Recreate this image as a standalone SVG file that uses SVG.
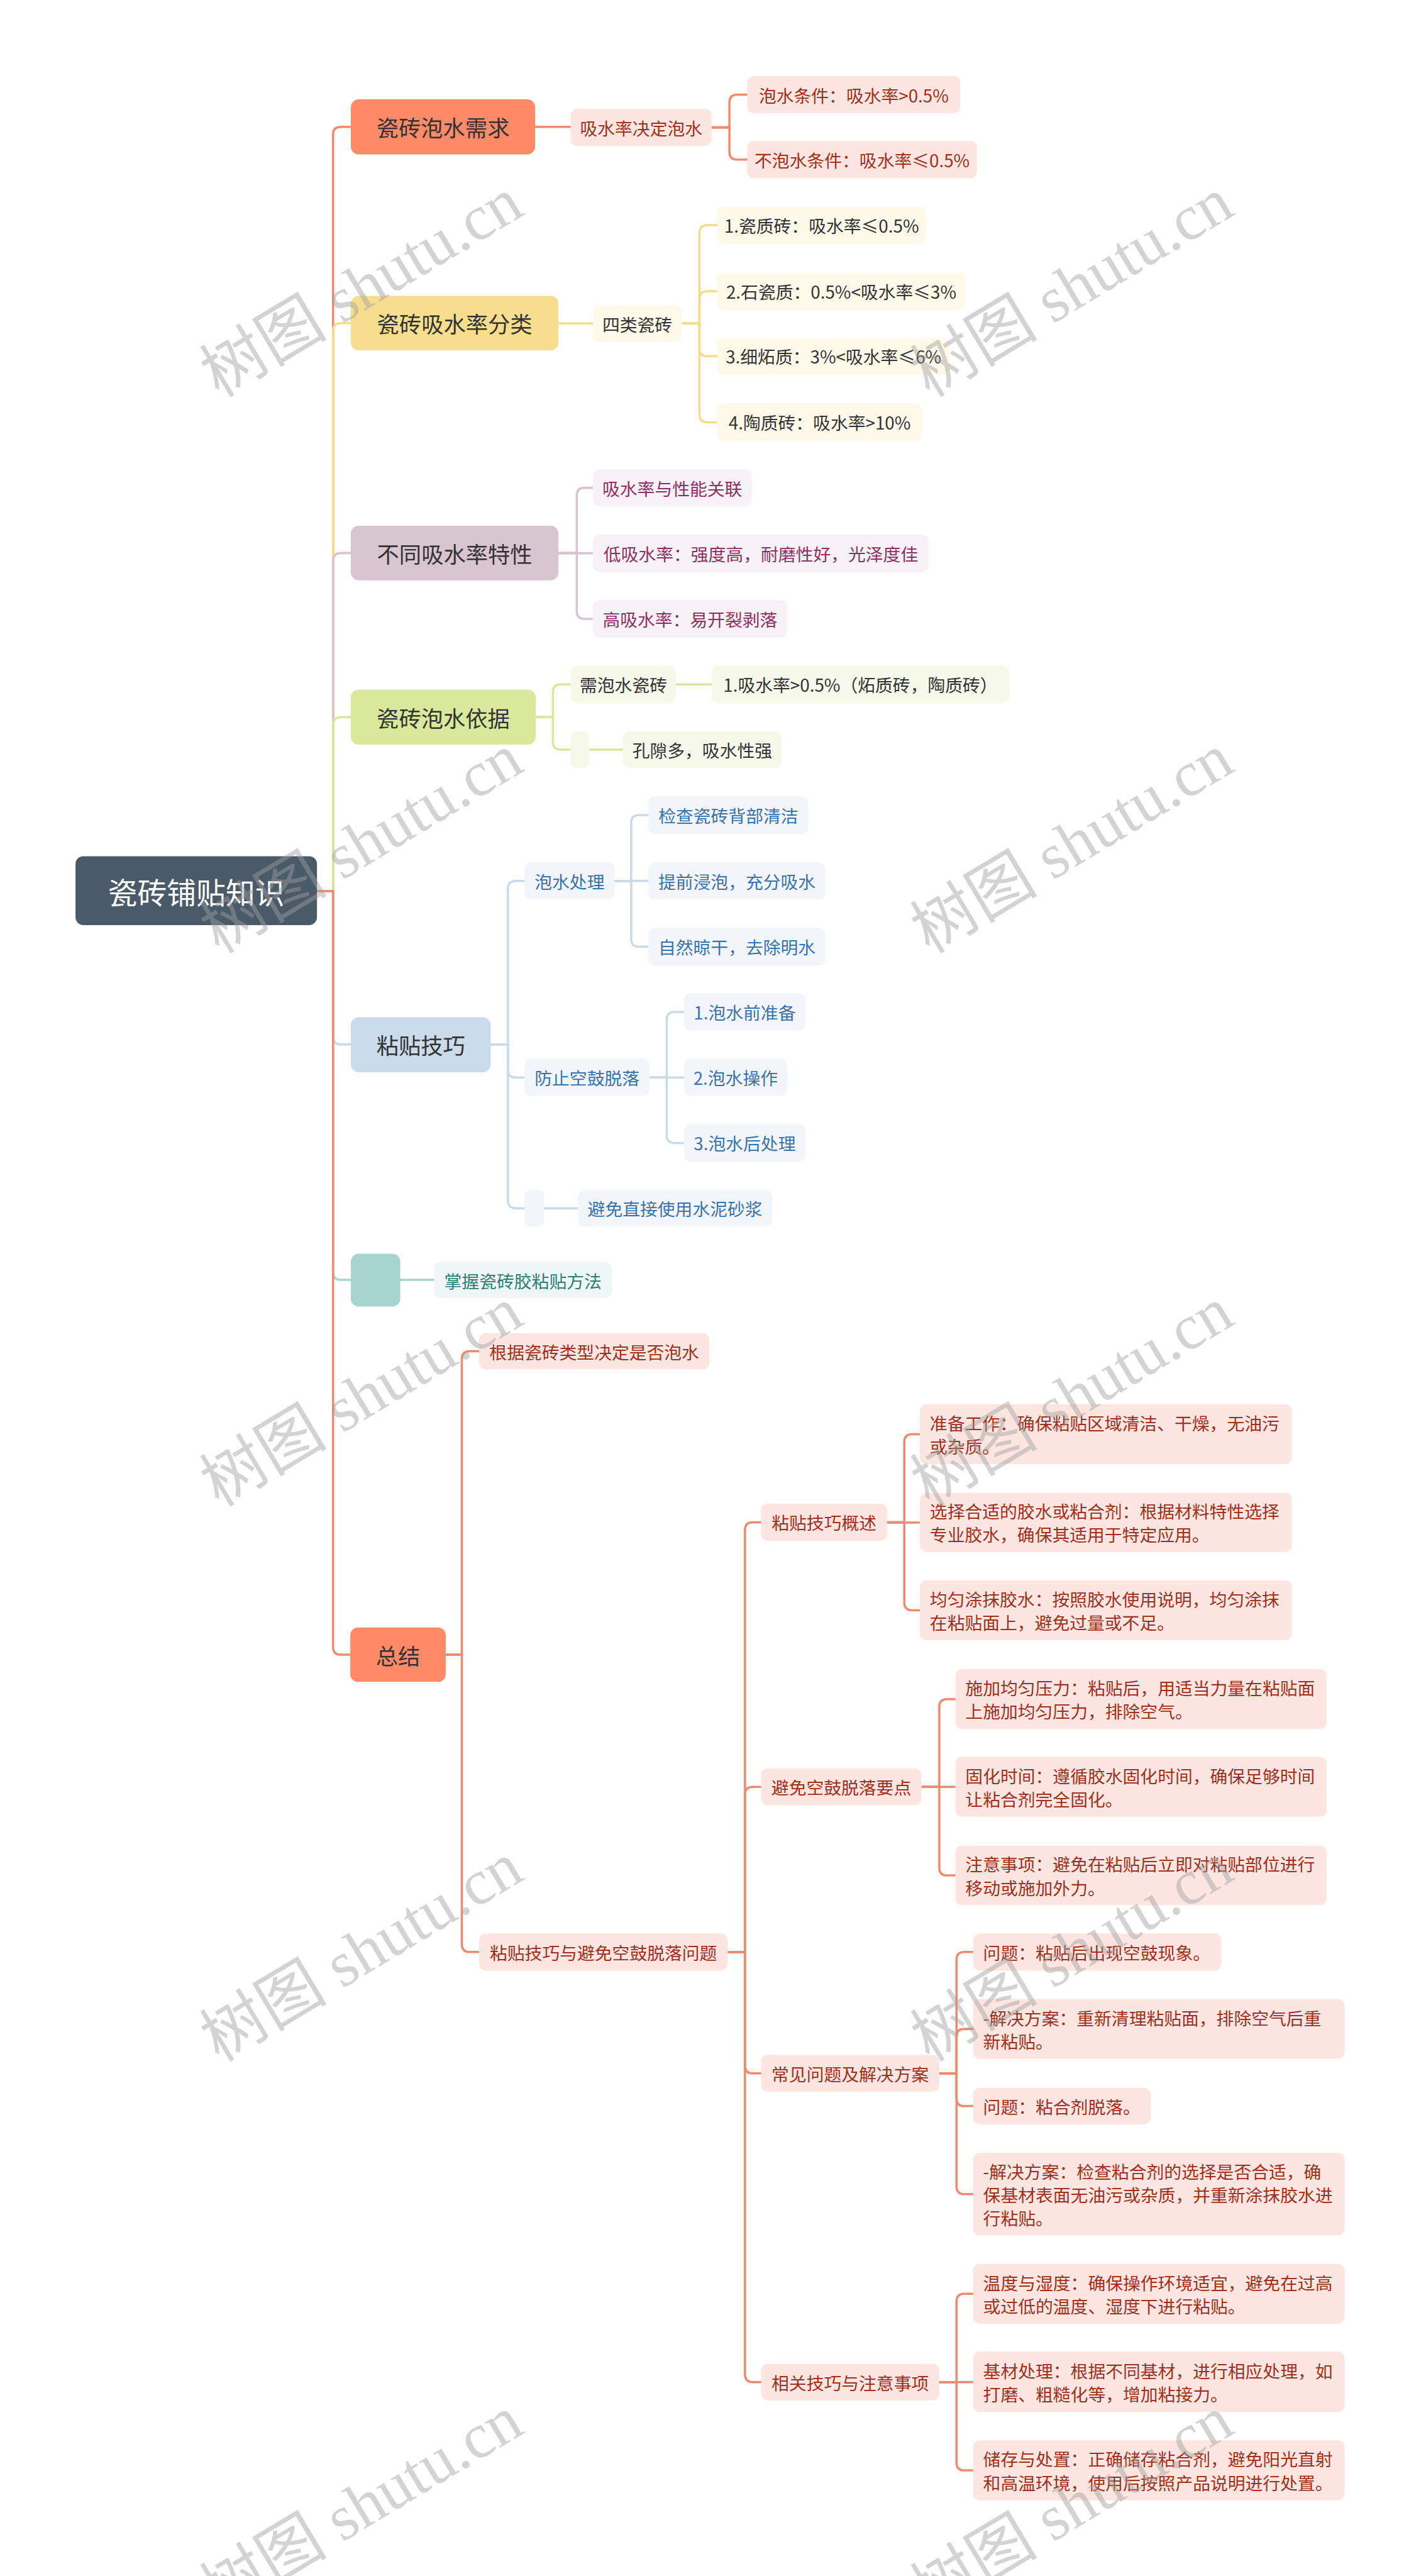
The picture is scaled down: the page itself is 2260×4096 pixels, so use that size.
<svg xmlns="http://www.w3.org/2000/svg" width="2260" height="4096" viewBox="0 0 2260 4096">
<style>
text{font-family:"Noto Sans CJK SC","Noto Sans",sans-serif;dominant-baseline:central}
.c{text-anchor:middle}
.f0{font-size:53px;fill:#ffffff}
.f1{font-size:40px;fill:#333333}
.f2{font-size:31.5px}
.lk{fill:none;stroke-width:4;stroke-linecap:round}
.co{stroke:#F0896E}.ye{stroke:#F5DC8D}.ma{stroke:#D8C4CF}.gr{stroke:#D7E89B}.bl{stroke:#C9DAEB}.te{stroke:#A6D5CF}
.tco{fill:#A0301B}.tye{fill:#333333}.tma{fill:#8E2F63}.tgr{fill:#333333}.tbl{fill:#3A72AC}.tte{fill:#2E7E73}
.bco{fill:#FDE6E1}.bye{fill:#FEF9E8}.bma{fill:#F8F1F5}.bgr{fill:#F6F9EA}.bbl{fill:#F2F6FA}.bte{fill:#EEF7F6}
.wm{font-family:"Liberation Serif","Noto Sans CJK SC",serif;font-size:115px;fill:#a0a0a0;opacity:0.45;text-anchor:middle}
</style>
<rect x="0" y="0" width="2260" height="4096" fill="#ffffff"/>
<g transform="scale(0.8829)">
<g id="connectors">
<path class="lk co" d="M571 1605 H600 V242.5 Q600 228.5 614 228.5 H632"/>
<path class="lk ye" d="M571 1605 H600 V596 Q600 582 614 582 H632"/>
<path class="lk ma" d="M571 1605 H600 V1010 Q600 996 614 996 H632"/>
<path class="lk gr" d="M571 1605 H600 V1305.5 Q600 1291.5 614 1291.5 H632"/>
<path class="lk bl" d="M571 1605 H600 V1867 Q600 1881 614 1881 H632"/>
<path class="lk te" d="M571 1605 H600 V2291 Q600 2305 614 2305 H632"/>
<path class="lk co" d="M571 1605 H600 V2966 Q600 2980 614 2980 H632"/>
<path class="lk co" d="M964 228.5 H1028"/>
<path class="lk co" d="M1282 229.5 H1314 V184.5 Q1314 170.5 1328 170.5 H1346"/>
<path class="lk co" d="M1282 229.5 H1314 V273.5 Q1314 287.5 1328 287.5 H1346"/>
<path class="lk ye" d="M1006 582.5 H1068"/>
<path class="lk ye" d="M1228 582.5 H1260 V419.5 Q1260 405.5 1274 405.5 H1292"/>
<path class="lk ye" d="M1228 582.5 H1260 V538.5 Q1260 524.5 1274 524.5 H1292"/>
<path class="lk ye" d="M1228 582.5 H1260 V627.5 Q1260 641.5 1274 641.5 H1292"/>
<path class="lk ye" d="M1228 582.5 H1260 V746.5 Q1260 760.5 1274 760.5 H1292"/>
<path class="lk ma" d="M1006 996 H1039 V892.5 Q1039 878.5 1053 878.5 H1068"/>
<path class="lk ma" d="M1006 996.5 H1068"/>
<path class="lk ma" d="M1006 996 H1039 V1100.5 Q1039 1114.5 1053 1114.5 H1068"/>
<path class="lk gr" d="M965 1291.5 H996 V1246.5 Q996 1232.5 1010 1232.5 H1028"/>
<path class="lk gr" d="M965 1291.5 H996 V1336 Q996 1350 1010 1350 H1028"/>
<path class="lk gr" d="M1218 1232.5 H1282"/>
<path class="lk gr" d="M1061 1350 H1122"/>
<path class="lk bl" d="M884 1881 H915 V1600.5 Q915 1586.5 929 1586.5 H945"/>
<path class="lk bl" d="M884 1881 H915 V1926.5 Q915 1940.5 929 1940.5 H945"/>
<path class="lk bl" d="M884 1881 H915 V2162 Q915 2176 929 2176 H945"/>
<path class="lk bl" d="M1107 1586.5 H1137 V1482 Q1137 1468 1151 1468 H1168"/>
<path class="lk bl" d="M1107 1586.5 H1168"/>
<path class="lk bl" d="M1107 1586.5 H1137 V1691 Q1137 1705 1151 1705 H1168"/>
<path class="lk bl" d="M1170 1940.5 H1201 V1836.5 Q1201 1822.5 1215 1822.5 H1232"/>
<path class="lk bl" d="M1170 1940.5 H1232"/>
<path class="lk bl" d="M1170 1940.5 H1201 V2044.5 Q1201 2058.5 1215 2058.5 H1232"/>
<path class="lk bl" d="M980 2176 H1041"/>
<path class="lk te" d="M721 2305 H782"/>
<path class="lk co" d="M803 2980 H832 V2447.5 Q832 2433.5 846 2433.5 H863"/>
<path class="lk co" d="M803 2980 H832 V3501.5 Q832 3515.5 846 3515.5 H863"/>
<path class="lk co" d="M1311 3515.5 H1342 V2755.5 Q1342 2741.5 1356 2741.5 H1371"/>
<path class="lk co" d="M1311 3515.5 H1342 V3232 Q1342 3218 1356 3218 H1371"/>
<path class="lk co" d="M1311 3515.5 H1342 V3720 Q1342 3734 1356 3734 H1371"/>
<path class="lk co" d="M1311 3515.5 H1342 V4276 Q1342 4290 1356 4290 H1371"/>
<path class="lk co" d="M1598 2741.5 H1629 V2597 Q1629 2583 1643 2583 H1657"/>
<path class="lk co" d="M1598 2742 H1657"/>
<path class="lk co" d="M1598 2741.5 H1629 V2886 Q1629 2900 1643 2900 H1657"/>
<path class="lk co" d="M1660 3218 H1692 V3074 Q1692 3060 1706 3060 H1721"/>
<path class="lk co" d="M1660 3218 H1721"/>
<path class="lk co" d="M1660 3218 H1692 V3363.5 Q1692 3377.5 1706 3377.5 H1721"/>
<path class="lk co" d="M1692 3734 H1723 V3529.5 Q1723 3515.5 1737 3515.5 H1753"/>
<path class="lk co" d="M1692 3734 H1723 V3668 Q1723 3654 1737 3654 H1753"/>
<path class="lk co" d="M1692 3734 H1723 V3779 Q1723 3793 1737 3793 H1753"/>
<path class="lk co" d="M1692 3734 H1723 V3937.5 Q1723 3951.5 1737 3951.5 H1753"/>
<path class="lk co" d="M1692 4290 H1723 V4145 Q1723 4131 1737 4131 H1753"/>
<path class="lk co" d="M1692 4290 H1753"/>
<path class="lk co" d="M1692 4290 H1723 V4435 Q1723 4449 1737 4449 H1753"/>
</g>

<g id="root"><rect x="136" y="1542" width="435" height="124" rx="14" fill="#4A5A69"/><text class="c f0" x="353.5" y="1604">瓷砖铺贴知识</text></g>

<g id="n-a1"><rect x="632" y="179" width="332" height="99" rx="14" fill="#FE8A68"/><text class="c f1" x="798" y="228.5">瓷砖泡水需求</text></g>
<g id="n-a2"><rect x="632" y="533" width="374" height="98" rx="14" fill="#F7DE8F"/><text class="c f1" x="819" y="582">瓷砖吸水率分类</text></g>
<g id="n-a3"><rect x="632" y="947" width="374" height="98" rx="14" fill="#D8C5D0"/><text class="c f1" x="819" y="996">不同吸水率特性</text></g>
<g id="n-a4"><rect x="632" y="1242" width="333" height="99" rx="14" fill="#D9E89A"/><text class="c f1" x="798.5" y="1291.5">瓷砖泡水依据</text></g>
<g id="n-a5"><rect x="632" y="1832" width="252" height="99" rx="14" fill="#CADBEC"/><text class="c f1" x="758" y="1881">粘贴技巧</text></g>
<g id="n-a6"><rect x="632" y="2258" width="89" height="95" rx="14" fill="#A6D5CF"/></g>
<g id="n-a7"><rect x="631" y="2931" width="172" height="98" rx="14" fill="#FE8A68"/><text class="c f1" x="717" y="2980">总结</text></g>

<g id="n-b1"><rect class="bco" x="1028" y="196" width="254" height="67" rx="12"/><text class="c f2 tco" x="1155" y="229.5">吸水率决定泡水</text></g>
<g id="n-c1"><rect class="bco" x="1346" y="137" width="384" height="67" rx="12"/><text class="c f2 tco" x="1538" y="170.5">泡水条件：吸水率&gt;0.5%</text></g>
<g id="n-c2"><rect class="bco" x="1346" y="254" width="414" height="67" rx="12"/><text class="c f2 tco" x="1553" y="287.5">不泡水条件：吸水率≤0.5%</text></g>

<g id="n-b2"><rect class="bye" x="1068" y="550" width="160" height="66" rx="12"/><text class="c f2 tye" x="1148" y="583">四类瓷砖</text></g>
<g id="n-d1"><rect class="bye" x="1292" y="372" width="376" height="67" rx="12"/><text class="c f2 tye" x="1480" y="405.5">1.瓷质砖：吸水率≤0.5%</text></g>
<g id="n-d2"><rect class="bye" x="1292" y="491" width="447" height="67" rx="12"/><text class="c f2 tye" x="1515.5" y="524.5">2.石瓷质：0.5%&lt;吸水率≤3%</text></g>
<g id="n-d3"><rect class="bye" x="1292" y="608" width="419" height="67" rx="12"/><text class="c f2 tye" x="1501.5" y="641.5">3.细炻质：3%&lt;吸水率≤6%</text></g>
<g id="n-d4"><rect class="bye" x="1292" y="727" width="369" height="67" rx="12"/><text class="c f2 tye" x="1476.5" y="760.5">4.陶质砖：吸水率&gt;10%</text></g>

<g id="n-e1"><rect class="bma" x="1068" y="845" width="286" height="67" rx="12"/><text class="c f2 tma" x="1211" y="878.5">吸水率与性能关联</text></g>
<g id="n-e2"><rect class="bma" x="1068" y="963" width="605" height="67" rx="12"/><text class="c f2 tma" x="1370.5" y="996.5">低吸水率：强度高，耐磨性好，光泽度佳</text></g>
<g id="n-e3"><rect class="bma" x="1068" y="1081" width="350" height="67" rx="12"/><text class="c f2 tma" x="1243" y="1114.5">高吸水率：易开裂剥落</text></g>

<g id="n-f1"><rect class="bgr" x="1028" y="1199" width="190" height="67" rx="12"/><text class="c f2 tgr" x="1123" y="1232.5">需泡水瓷砖</text></g>
<g id="n-f2"><rect class="bgr" x="1282" y="1199" width="536" height="67" rx="12"/><text class="c f2 tgr" x="1550" y="1232.5">1.吸水率&gt;0.5%（炻质砖，陶质砖）</text></g>
<g id="n-f3"><rect class="bgr" x="1028" y="1317" width="33" height="66" rx="10"/></g>
<g id="n-f4"><rect class="bgr" x="1122" y="1317" width="286" height="66" rx="12"/><text class="c f2 tgr" x="1265" y="1350">孔隙多，吸水性强</text></g>

<g id="n-g1"><rect class="bbl" x="945" y="1553" width="162" height="67" rx="12"/><text class="c f2 tbl" x="1026" y="1586.5">泡水处理</text></g>
<g id="n-g2"><rect class="bbl" x="1168" y="1434" width="288" height="68" rx="12"/><text class="c f2 tbl" x="1312" y="1468">检查瓷砖背部清洁</text></g>
<g id="n-g3"><rect class="bbl" x="1168" y="1553" width="319" height="67" rx="12"/><text class="c f2 tbl" x="1327.5" y="1586.5">提前浸泡，充分吸水</text></g>
<g id="n-g4"><rect class="bbl" x="1168" y="1671" width="319" height="68" rx="12"/><text class="c f2 tbl" x="1327.5" y="1705">自然晾干，去除明水</text></g>
<g id="n-g5"><rect class="bbl" x="945" y="1907" width="225" height="67" rx="12"/><text class="c f2 tbl" x="1057.5" y="1940.5">防止空鼓脱落</text></g>
<g id="n-g6"><rect class="bbl" x="1232" y="1789" width="219" height="67" rx="12"/><text class="c f2 tbl" x="1341.5" y="1822.5">1.泡水前准备</text></g>
<g id="n-g7"><rect class="bbl" x="1232" y="1907" width="186" height="67" rx="12"/><text class="c f2 tbl" x="1325" y="1940.5">2.泡水操作</text></g>
<g id="n-g8"><rect class="bbl" x="1232" y="2025" width="219" height="67" rx="12"/><text class="c f2 tbl" x="1341.5" y="2058.5">3.泡水后处理</text></g>
<g id="n-g9"><rect class="bbl" x="945" y="2143" width="35" height="66" rx="10"/></g>
<g id="n-g10"><rect class="bbl" x="1041" y="2143" width="350" height="66" rx="12"/><text class="c f2 tbl" x="1216" y="2176">避免直接使用水泥砂浆</text></g>

<g id="n-h1"><rect class="bte" x="782" y="2273" width="320" height="65" rx="12"/><text class="c f2 tte" x="942" y="2305.5">掌握瓷砖胶粘贴方法</text></g>

<g id="n-i1"><rect class="bco" x="863" y="2401" width="415" height="65" rx="12"/><text class="c f2 tco" x="1070.5" y="2433.5">根据瓷砖类型决定是否泡水</text></g>
<g id="n-i2"><rect class="bco" x="863" y="3482" width="448" height="67" rx="12"/><text class="c f2 tco" x="1087" y="3515.5">粘贴技巧与避免空鼓脱落问题</text></g>
<g id="n-j1"><rect class="bco" x="1371" y="2708" width="227" height="67" rx="12"/><text class="c f2 tco" x="1484.5" y="2741.5">粘贴技巧概述</text></g>
<g id="n-j2"><rect class="bco" x="1371" y="3185" width="289" height="66" rx="12"/><text class="c f2 tco" x="1515.5" y="3218">避免空鼓脱落要点</text></g>
<g id="n-j3"><rect class="bco" x="1371" y="3701" width="321" height="66" rx="12"/><text class="c f2 tco" x="1531.5" y="3734">常见问题及解决方案</text></g>
<g id="n-j4"><rect class="bco" x="1371" y="4257" width="321" height="66" rx="12"/><text class="c f2 tco" x="1531.5" y="4290">相关技巧与注意事项</text></g>

<g id="n-k1"><rect class="bco" x="1657" y="2529" width="670" height="108" rx="12"/><text class="f2 tco" x="1675" y="2562">准备工作：确保粘贴区域清洁、干燥，无油污</text><text class="f2 tco" x="1675" y="2604">或杂质。</text></g>
<g id="n-k2"><rect class="bco" x="1657" y="2689" width="670" height="106" rx="12"/><text class="f2 tco" x="1675" y="2721">选择合适的胶水或粘合剂：根据材料特性选择</text><text class="f2 tco" x="1675" y="2763">专业胶水，确保其适用于特定应用。</text></g>
<g id="n-k3"><rect class="bco" x="1657" y="2846" width="670" height="108" rx="12"/><text class="f2 tco" x="1675" y="2879">均匀涂抹胶水：按照胶水使用说明，均匀涂抹</text><text class="f2 tco" x="1675" y="2921">在粘贴面上，避免过量或不足。</text></g>
<g id="n-k4"><rect class="bco" x="1721" y="3006" width="669" height="108" rx="12"/><text class="f2 tco" x="1739" y="3039">施加均匀压力：粘贴后，用适当力量在粘贴面</text><text class="f2 tco" x="1739" y="3081">上施加均匀压力，排除空气。</text></g>
<g id="n-k5"><rect class="bco" x="1721" y="3164" width="669" height="108" rx="12"/><text class="f2 tco" x="1739" y="3197">固化时间：遵循胶水固化时间，确保足够时间</text><text class="f2 tco" x="1739" y="3239">让粘合剂完全固化。</text></g>
<g id="n-k6"><rect class="bco" x="1721" y="3324" width="669" height="107" rx="12"/><text class="f2 tco" x="1739" y="3356.5">注意事项：避免在粘贴后立即对粘贴部位进行</text><text class="f2 tco" x="1739" y="3398.5">移动或施加外力。</text></g>
<g id="n-k7"><rect class="bco" x="1753" y="3482" width="447" height="67" rx="12"/><text class="f2 tco" x="1771" y="3515.5">问题：粘贴后出现空鼓现象。</text></g>
<g id="n-k8"><rect class="bco" x="1753" y="3600" width="669" height="108" rx="12"/><text class="f2 tco" x="1771" y="3633">-解决方案：重新清理粘贴面，排除空气后重</text><text class="f2 tco" x="1771" y="3675">新粘贴。</text></g>
<g id="n-k9"><rect class="bco" x="1753" y="3760" width="320" height="66" rx="12"/><text class="f2 tco" x="1771" y="3793">问题：粘合剂脱落。</text></g>
<g id="n-k10"><rect class="bco" x="1753" y="3877" width="669" height="149" rx="12"/><text class="f2 tco" x="1771" y="3909.5">-解决方案：检查粘合剂的选择是否合适，确</text><text class="f2 tco" x="1771" y="3951.5">保基材表面无油污或杂质，并重新涂抹胶水进</text><text class="f2 tco" x="1771" y="3993.5">行粘贴。</text></g>
<g id="n-k11"><rect class="bco" x="1753" y="4077" width="669" height="108" rx="12"/><text class="f2 tco" x="1771" y="4110">温度与湿度：确保操作环境适宜，避免在过高</text><text class="f2 tco" x="1771" y="4152">或过低的温度、湿度下进行粘贴。</text></g>
<g id="n-k12"><rect class="bco" x="1753" y="4235" width="669" height="109" rx="12"/><text class="f2 tco" x="1771" y="4268.5">基材处理：根据不同基材，进行相应处理，如</text><text class="f2 tco" x="1771" y="4310.5">打磨、粗糙化等，增加粘接力。</text></g>
<g id="n-k13"><rect class="bco" x="1753" y="4395" width="669" height="108" rx="12"/><text class="f2 tco" x="1771" y="4428">储存与处置：正确储存粘合剂，避免阳光直射</text><text class="f2 tco" x="1771" y="4470">和高温环境，使用后按照产品说明进行处置。</text></g>

<g id="watermarks">
<text class="wm" transform="translate(651 518) rotate(-31)">树图 shutu.cn</text>
<text class="wm" transform="translate(1931 518) rotate(-31)">树图 shutu.cn</text>
<text class="wm" transform="translate(651 1520) rotate(-31)">树图 shutu.cn</text>
<text class="wm" transform="translate(1931 1520) rotate(-31)">树图 shutu.cn</text>
<text class="wm" transform="translate(651 2516) rotate(-31)">树图 shutu.cn</text>
<text class="wm" transform="translate(1931 2516) rotate(-31)">树图 shutu.cn</text>
<text class="wm" transform="translate(651 3516) rotate(-31)">树图 shutu.cn</text>
<text class="wm" transform="translate(1931 3516) rotate(-31)">树图 shutu.cn</text>
<text class="wm" transform="translate(651 4513) rotate(-31)">树图 shutu.cn</text>
<text class="wm" transform="translate(1931 4513) rotate(-31)">树图 shutu.cn</text>
</g>
</g>
</svg>
